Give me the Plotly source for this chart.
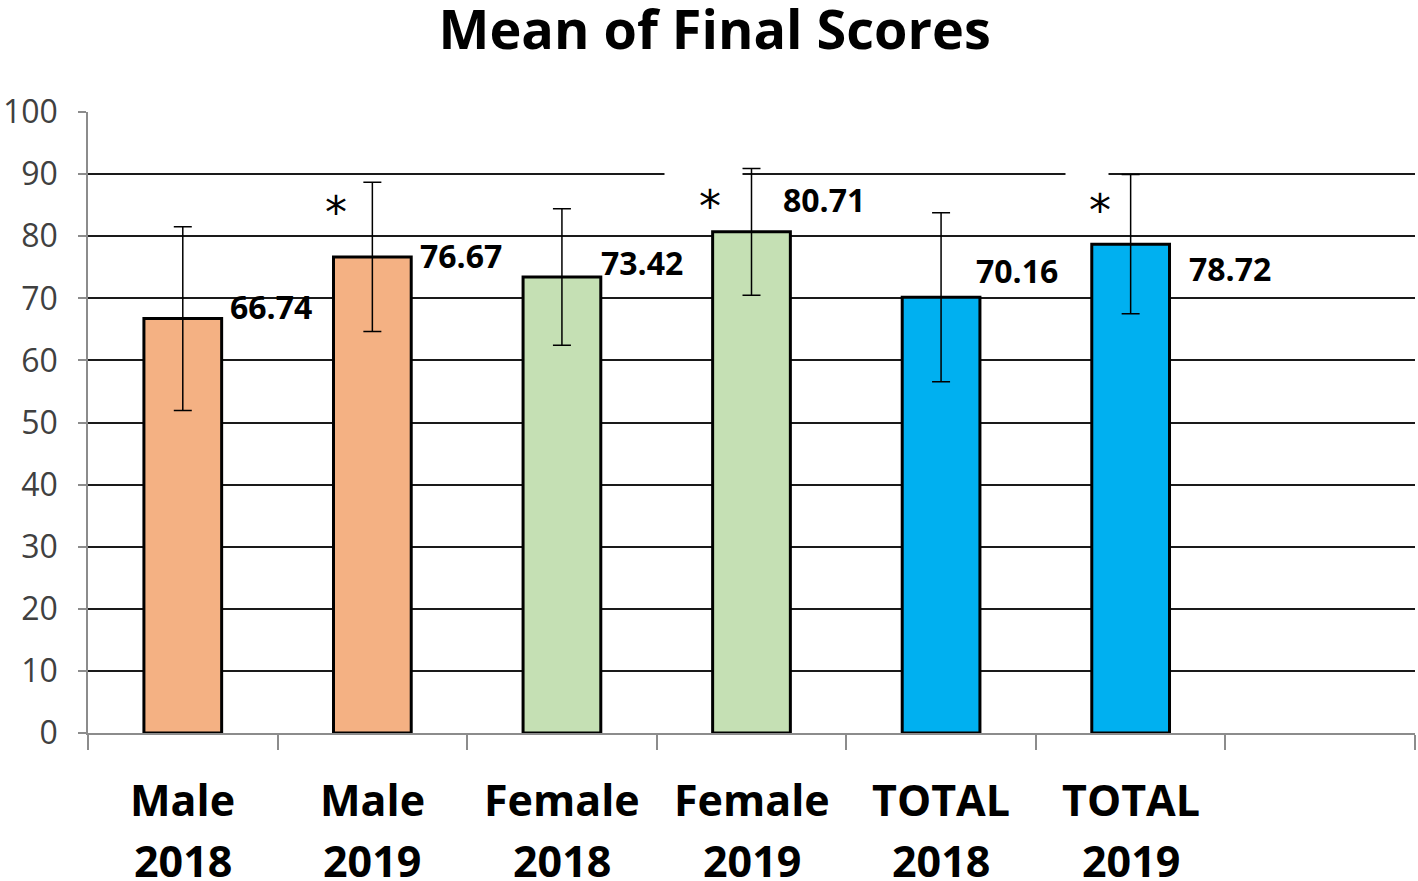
import plotly.graph_objects as go

categories = ["Male<br>2018", "Male<br>2019", "Female<br>2018", "Female<br>2019", "TOTAL<br>2018", "TOTAL<br>2019"]
means = [66.74, 76.67, 73.42, 80.71, 70.16, 78.72]
errors = [14.8, 12.0, 11.0, 10.2, 13.6, 11.2]
colors = ["#F4B183", "#F4B183", "#C5E0B4", "#C5E0B4", "#00B0F0", "#00B0F0"]
significant = [False, True, False, True, False, True]
y_ticks = list(range(0, 101, 10))

# label placement offsets (pixels) relative to the bar top
label_dx = [88, 89, 80, 72, 76, 99]
label_dy = [12, 1, 15, 32, 27, -24]
star_dx = [0, -36, 0, -42, 0, -31]
star_dy = [0, 44, 0, 25, 0, 34]
# white gaps in the 90 gridline behind some asterisk text boxes (width, x offset)
gap_w = [0, 0, 0, 77, 0, 42]
gap_dx = [0, 0, 0, -48, 0, -44]

axis_cats = categories + [" "]
FONT = "Open Sans"

fig = go.Figure()
fig.add_trace(go.Bar(
    x=categories, y=means,
    marker=dict(color=colors, line=dict(color="black", width=3)),
    width=0.41,
    error_y=dict(type="data", array=errors, visible=True, color="black", thickness=1.5, width=9),
    showlegend=False, hoverinfo="x+y",
))

annotations = []
for i, c in enumerate(categories):
    if gap_w[i]:
        annotations.append(dict(
            x=c, y=90, xref="x", yref="y", text=" ", showarrow=False,
            xshift=gap_dx[i], width=gap_w[i], height=8, bgcolor="white", borderpad=0,
            font=dict(size=4),
        ))
for i, (c, m) in enumerate(zip(categories, means)):
    annotations.append(dict(
        x=c, y=m, xref="x", yref="y", text=f"<b>{m:.2f}</b>", showarrow=False,
        xshift=label_dx[i], yshift=label_dy[i],
        font=dict(family=FONT, size=32, color="black"),
    ))
for i, (c, m, s) in enumerate(zip(categories, means, significant)):
    if not s:
        continue
    annotations.append(dict(
        x=c, y=m, xref="x", yref="y", text="*", showarrow=False,
        xshift=star_dx[i], yshift=star_dy[i],
        font=dict(family="DejaVu Sans", size=44, color="black"),
    ))
# two-line category labels
for c in categories:
    top, bottom = c.split("<br>")
    annotations.append(dict(x=c, y=0, xref="x", yref="y", text=f"<b>{top}</b>", showarrow=False,
                            yshift=-66, font=dict(family=FONT, size=43, color="black")))
    annotations.append(dict(x=c, y=0, xref="x", yref="y", text=f"<b>{bottom}</b>", showarrow=False,
                            yshift=-127, font=dict(family=FONT, size=43, color="black")))

fig.update_layout(
    width=1418, height=881,
    margin=dict(l=88, r=3, t=112, b=148),
    paper_bgcolor="white", plot_bgcolor="white",
    title=dict(text="<b>Mean of Final Scores</b>", x=0.504, xanchor="center", y=0.966, yanchor="middle",
               font=dict(family=FONT, size=54, color="black")),
    xaxis=dict(
        type="category", categoryorder="array", categoryarray=axis_cats,
        range=[-0.5, len(axis_cats) - 0.5],
        tickson="boundaries", ticks="outside", ticklen=15, tickcolor="#8c8c8c", tickwidth=1.5,
        showline=True, linecolor="#8c8c8c", linewidth=1.5,
        showgrid=False, showticklabels=False,
    ),
    yaxis=dict(
        range=[0, 100], tickvals=y_ticks,
        ticks="outside", ticklen=8, tickcolor="#8c8c8c", tickwidth=1.5,
        showline=True, linecolor="#8c8c8c", linewidth=1.5,
        showgrid=True, gridcolor="#1a1a1a", gridwidth=1.5,
        zeroline=False, ticklabelstandoff=14,
        tickfont=dict(family=FONT, size=32, color="#404040"),
    ),
    annotations=annotations,
)

fig.write_html("out.html", config={"displayModeBar": False},
               post_script="document.body.style.margin='0';")
